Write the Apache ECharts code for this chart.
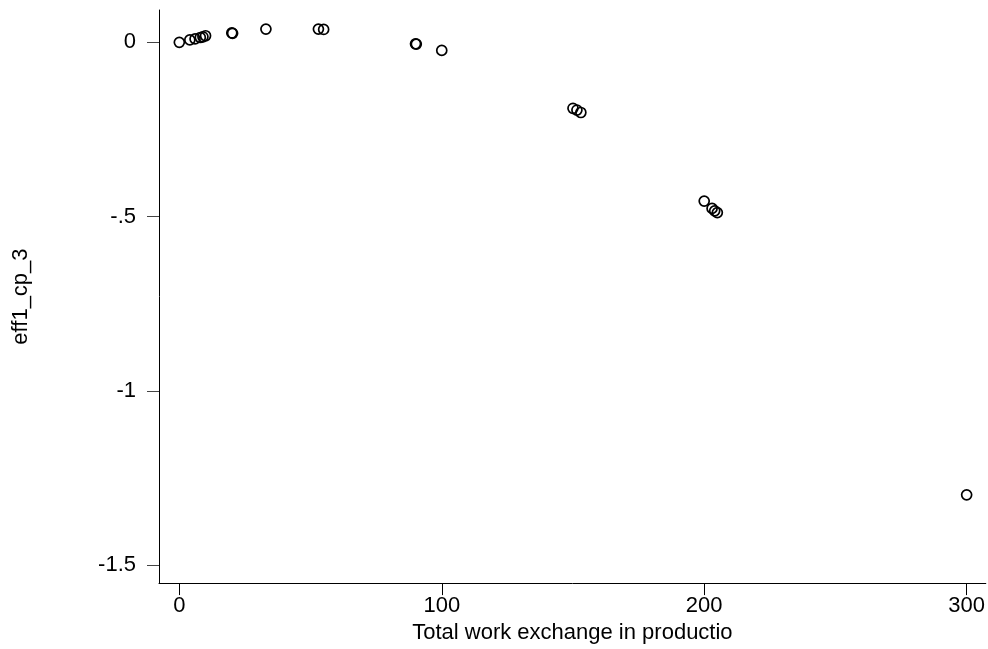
<!DOCTYPE html>
<html>
<head>
<meta charset="utf-8">
<script src="https://cdn.jsdelivr.net/npm/echarts@6/dist/echarts.min.js"></script>
<style>
  html, body { margin: 0; padding: 0; background: #fff; }
  #chart { width: 988px; height: 649px; }
</style>
</head>
<body>
<div id="chart"></div>
<script>
// Total work exchange (x) vs eff1_cp_3 (y)
var workExchange = [0, 4, 6, 8, 9, 10, 20, 20.3, 33, 53, 55, 90, 90.3, 100, 150, 151.5, 153, 200, 203, 204, 205, 300];
var eff1 = [-0.001, 0.006, 0.009, 0.013, 0.015, 0.018, 0.026, 0.025, 0.037, 0.037, 0.036, -0.005, -0.006, -0.024, -0.19, -0.195, -0.202, -0.456, -0.477, -0.484, -0.489, -1.298];
var xTicks = [0, 100, 200, 300];
var yTicks = [0, -0.5, -1, -1.5];

function points() {
    var arr = [];
    for (var i = 0; i < workExchange.length; i++) {
        arr.push([workExchange[i], eff1[i]]);
    }
    return arr;
}

function fmtY(v) {
    if (v === 0) return '0';
    return String(v).replace('0.', '.');
}

var myChart = echarts.init(document.getElementById('chart'));

var font = 'Liberation Sans, Arial, sans-serif';

var option = {
    animation: false,
    grid: { left: 159, top: 10, right: 2, bottom: 61, containLabel: false },
    xAxis: {
        type: 'value',
        min: -7.74,
        max: 307.3,
        name: 'Total work exchange in productio',
        nameLocation: 'middle',
        nameGap: 34,
        nameTextStyle: { color: '#000', fontSize: 22, fontFamily: font },
        splitLine: { show: false },
        axisLine: { show: true, onZero: false, lineStyle: { color: '#000', width: 1 } },
        axisTick: { show: true, length: 12, customValues: xTicks, lineStyle: { color: '#000' } },
        axisLabel: { customValues: xTicks, margin: 12, color: '#000', fontSize: 22, fontFamily: font }
    },
    yAxis: {
        type: 'value',
        min: -1.551,
        max: 0.0918,
        name: 'eff1_cp_3',
        nameLocation: 'middle',
        nameRotate: 90,
        nameGap: 127,
        nameTextStyle: { color: '#000', fontSize: 22, fontFamily: font },
        splitLine: { show: false },
        axisLine: { show: true, onZero: false, lineStyle: { color: '#000', width: 1 } },
        axisTick: { show: true, length: 12, customValues: yTicks, lineStyle: { color: '#444' } },
        axisLabel: { customValues: yTicks, margin: 23, color: '#000', fontSize: 22, fontFamily: font, formatter: fmtY }
    },
    series: [{
        type: 'scatter',
        data: points(),
        symbol: 'circle',
        symbolSize: 10,
        itemStyle: { color: 'rgba(0,0,0,0)', borderColor: '#000', borderWidth: 1.7, opacity: 1 }
    }]
};

myChart.setOption(option);
</script>
</body>
</html>
